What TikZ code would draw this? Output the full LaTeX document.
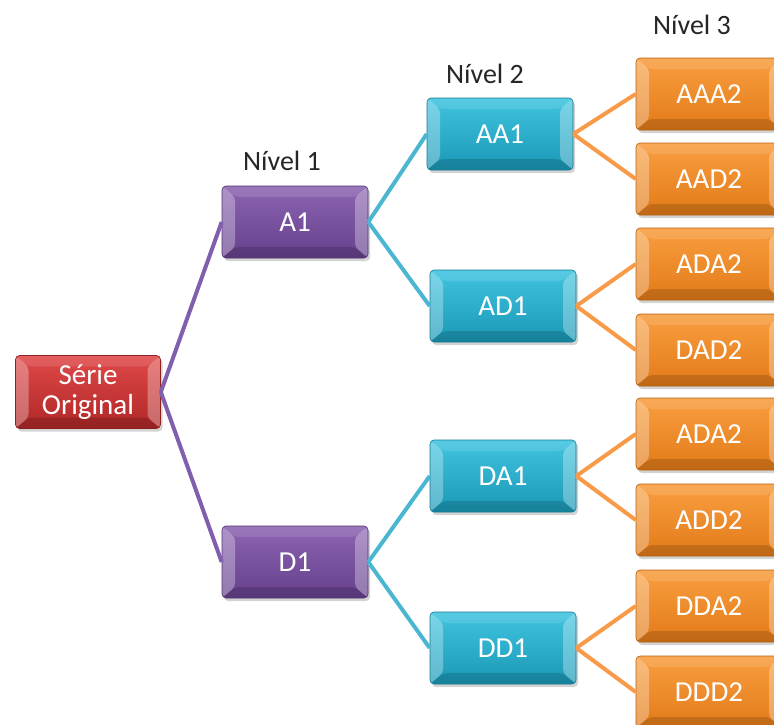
\documentclass[tikz,border=0pt]{standalone}
\usepackage{fontspec}
\setmainfont{Carlito}
\usetikzlibrary{shadows}
\definecolor{redA}{HTML}{E04848}
\definecolor{redB}{HTML}{B02828}
\definecolor{purA}{HTML}{8C64B2}
\definecolor{purB}{HTML}{66408C}
\definecolor{cyA}{HTML}{40C4E0}
\definecolor{cyB}{HTML}{1A98B6}
\definecolor{orA}{HTML}{F99E40}
\definecolor{orB}{HTML}{E27A18}
\definecolor{purL}{HTML}{7F5FAE}
\definecolor{cyL}{HTML}{4BB6D2}
\definecolor{orL}{HTML}{F89A48}
\definecolor{lbl}{HTML}{262626}
\tikzset{
  bevelbox/.style n args={2}{rounded corners=4pt, top color=#1, bottom color=#2,
    draw=#2!80!black, line width=0.6pt,
    minimum width=146pt, minimum height=72pt, inner sep=0pt,
    text=white, font=\fontsize{29}{31}\selectfont, align=center,
    drop shadow={opacity=0.35, shadow xshift=2pt, shadow yshift=-3pt},
    path picture={
      \fill[white,opacity=0.30] (path picture bounding box.north west) -- ([xshift=13pt,yshift=-11pt]path picture bounding box.north west) -- ([xshift=13pt,yshift=11pt]path picture bounding box.south west) -- (path picture bounding box.south west) -- cycle;
      \fill[white,opacity=0.30] (path picture bounding box.north east) -- ([xshift=-13pt,yshift=-11pt]path picture bounding box.north east) -- ([xshift=-13pt,yshift=11pt]path picture bounding box.south east) -- (path picture bounding box.south east) -- cycle;
      \fill[white,opacity=0.12] (path picture bounding box.north west) -- ([xshift=13pt,yshift=-11pt]path picture bounding box.north west) -- ([xshift=-13pt,yshift=-11pt]path picture bounding box.north east) -- (path picture bounding box.north east) -- cycle;
      \fill[black,opacity=0.15] (path picture bounding box.south west) -- ([xshift=13pt,yshift=11pt]path picture bounding box.south west) -- ([xshift=-13pt,yshift=11pt]path picture bounding box.south east) -- (path picture bounding box.south east) -- cycle;
    }},
  redbox/.style={bevelbox={redA}{redB}},
  purbox/.style={bevelbox={purA}{purB}},
  cybox/.style={bevelbox={cyA}{cyB}},
  orbox/.style={bevelbox={orA}{orB}},
  lev/.style={text=lbl, font=\fontsize{28}{30}\selectfont},
  link/.style={line width=4pt},
}
\begin{document}
\begin{tikzpicture}[x=1pt,y=-1pt]
\clip (0,0) rectangle (774,724);
\useasboundingbox (0,0) rectangle (774,724);
% level labels
\node[lev] (n1) at (282,161) {Nível 1};
\node[lev] (n2) at (485,74) {Nível 2};
\node[lev] (n3) at (692,25) {Nível 3};
% boxes
\node[redbox, minimum width=145pt, minimum height=73pt] (so-box) at (88,392) {Série\\[-1pt]Original};
\node[purbox] (a1) at (295,222) {A1};
\node[purbox] (d1) at (295,562) {D1};
\node[cybox] (aa1) at (500,134) {AA1};
\node[cybox] (ad1) at (503,306) {AD1};
\node[cybox] (da1) at (503,476) {DA1};
\node[cybox] (dd1) at (503,648) {DD1};
\node[orbox] (aaa2) at (709,94) {AAA2};
\node[orbox] (aad2) at (709,179) {AAD2};
\node[orbox] (ada2) at (709,264) {ADA2};
\node[orbox] (dad2) at (709,350) {DAD2};
\node[orbox] (ada2b) at (709,434) {ADA2};
\node[orbox] (add2) at (709,520) {ADD2};
\node[orbox] (dda2) at (709,606) {DDA2};
\node[orbox] (ddd2) at (709,692) {DDD2};
% connectors
\draw[link, purL] (so-box.east) -- (a1.west);
\draw[link, purL] (so-box.east) -- (d1.west);
\draw[link, cyL] (a1.east) -- (aa1.west);
\draw[link, cyL] (a1.east) -- (ad1.west);
\draw[link, cyL] (d1.east) -- (da1.west);
\draw[link, cyL] (d1.east) -- (dd1.west);
\draw[link, orL] (aa1.east) -- (aaa2.west);
\draw[link, orL] (aa1.east) -- (aad2.west);
\draw[link, orL] (ad1.east) -- (ada2.west);
\draw[link, orL] (ad1.east) -- (dad2.west);
\draw[link, orL] (da1.east) -- (ada2b.west);
\draw[link, orL] (da1.east) -- (add2.west);
\draw[link, orL] (dd1.east) -- (dda2.west);
\draw[link, orL] (dd1.east) -- (ddd2.west);
\end{tikzpicture}
\end{document}
